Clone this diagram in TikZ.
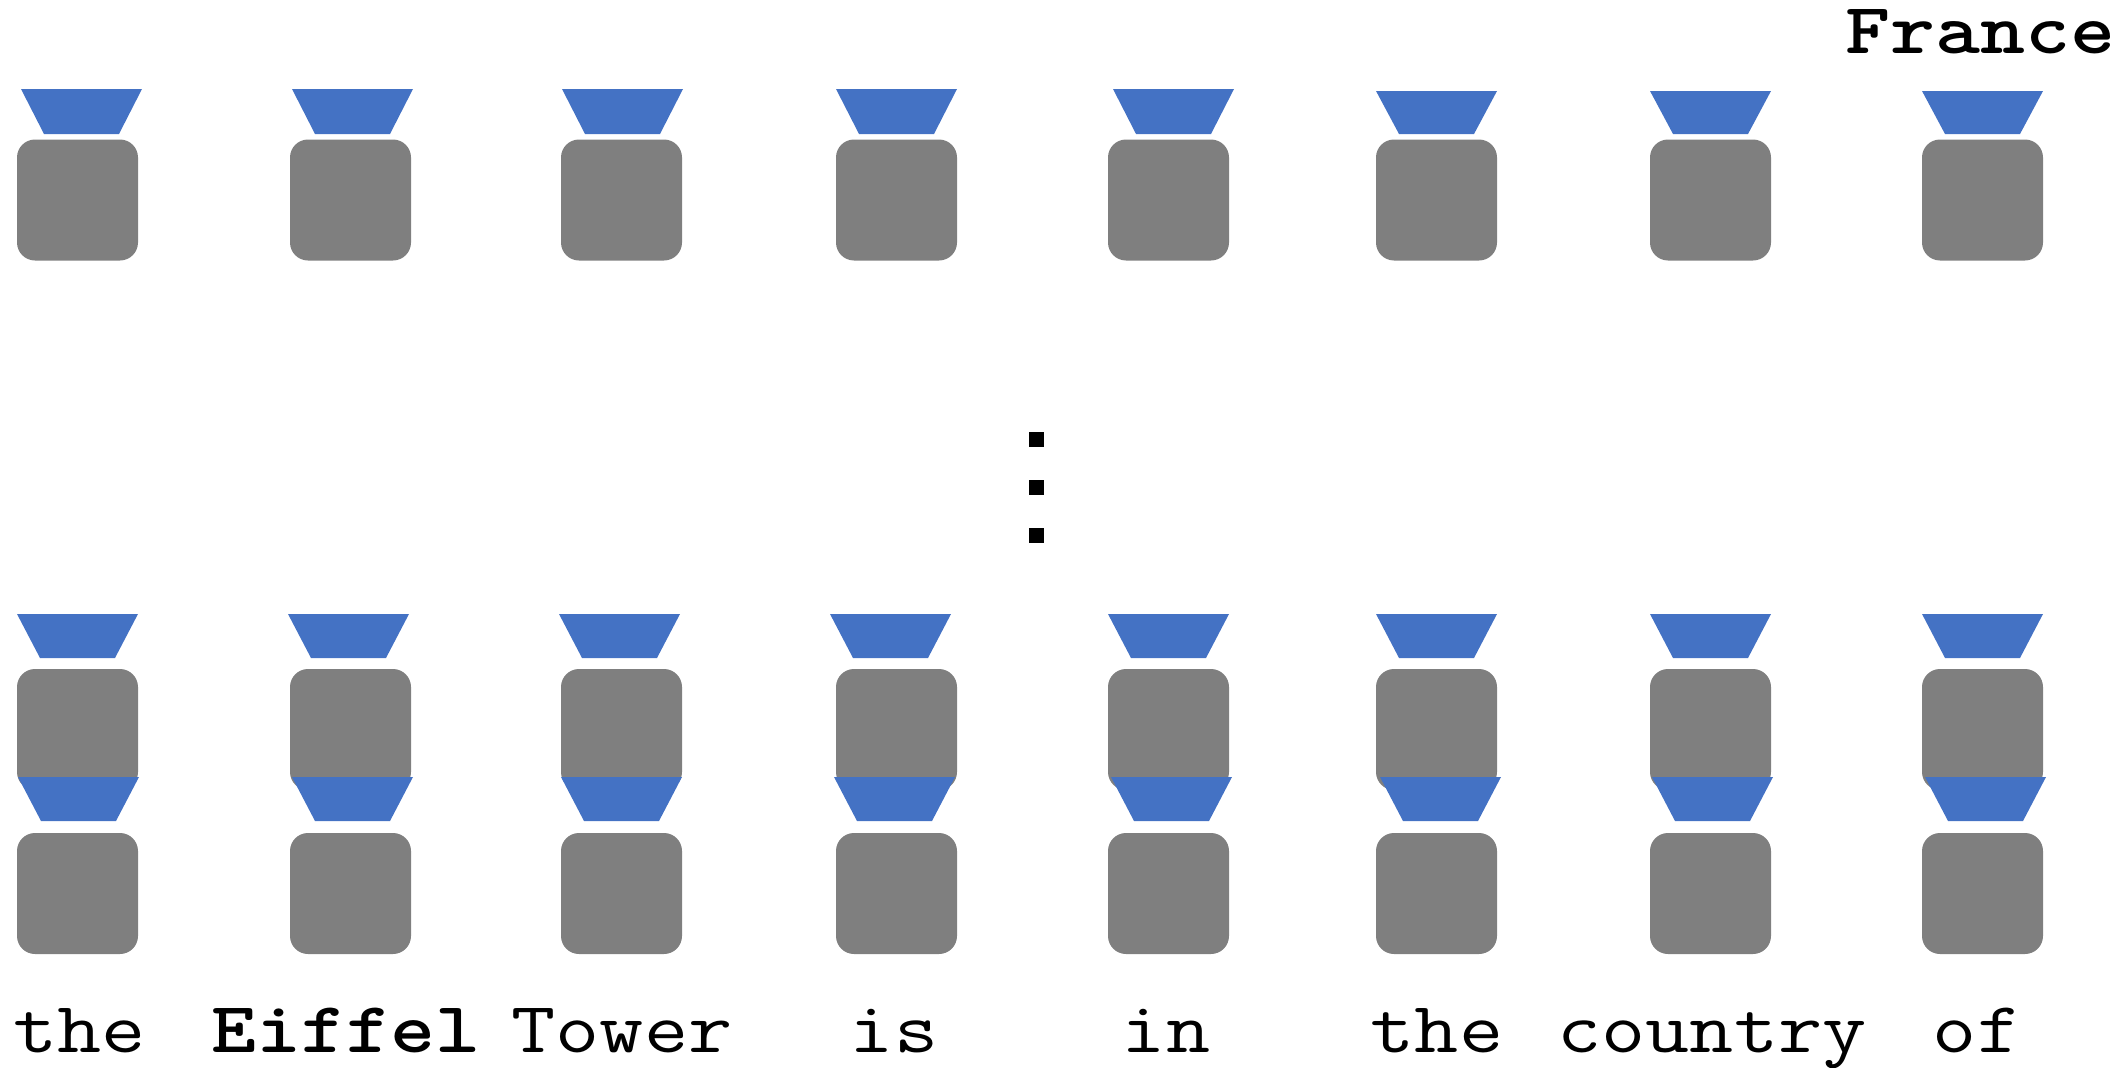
\documentclass[tikz,border=0pt]{standalone}
\usepackage{fontspec}
\usepackage{graphicx}
\definecolor{blockgray}{HTML}{7F7F7F}
\definecolor{trapblue}{HTML}{4472C4}
\tikzset{
  block/.style={rectangle, rounded corners=18pt, fill=blockgray, draw=none,
    minimum width=121pt, minimum height=121pt, inner sep=0pt},
  word/.style={anchor=base, inner sep=0pt, font=\fontsize{72}{86}\selectfont\ttfamily},
  dotsq/.style={fill=black, draw=none}
}
\newcommand{\wide}[1]{\scalebox{1.19}[1]{#1}}
\newcommand{\traphere}[3]{% left x, top y, bottom y
  \fill[trapblue] (#1,#2) -- ({#1+121},#2) -- ({#1+98},#3) -- ({#1+23},#3) -- cycle;}
\begin{document}
\begin{tikzpicture}[x=1pt,y=-1pt]
\useasboundingbox (0,0) rectangle (2118,1068);
% boxes
\foreach \i/\bx in {1/17,2/290,3/561,4/836,5/1108,6/1376,7/1650,8/1922}{
  \node[block] (top\i) at ({\bx+60.5},200) {};
  \node[block] (mid\i) at ({\bx+60.5},729.5) {};
  \node[block] (low\i) at ({\bx+60.5},893.5) {};
}
% top trapezoids
\foreach \tx/\ty in {21/89,292/89,562/89,836/89,1113/89,1376/91,1650/91,1922/91}{
  \traphere{\tx}{\ty}{134}
}
% layer-2 trapezoids
\foreach \tx in {17,288,559,830,1108,1376,1650,1922}{
  \traphere{\tx}{614}{658}
}
% layer-1 trapezoids
\foreach \tx in {18,292,561,834,1111,1380,1652,1925}{
  \traphere{\tx}{777}{821}
}
% vertical dots
\foreach \dy in {432,480,528}{
  \fill[dotsq] (1029,\dy) rectangle (1044,{\dy+15});
}
% words
\node[word] (w1) at (79.5,1052) {\wide{the}};
\node[word] (w2) at (346,1052) {\wide{\bfseries Eiffel}};
\node[word] (w3) at (622,1052) {\wide{Tower}};
\node[word] (w4) at (894,1052) {\wide{is}};
\node[word] (w5) at (1166,1052) {\wide{in}};
\node[word] (w6) at (1437,1052) {\wide{the}};
\node[word] (w7) at (1712,1052) {\wide{country}};
\node[word] (w8) at (1977,1052) {\wide{of}};
\node[word] (out) at (1980.5,53) {\wide{\bfseries France}};
\end{tikzpicture}
\end{document}
